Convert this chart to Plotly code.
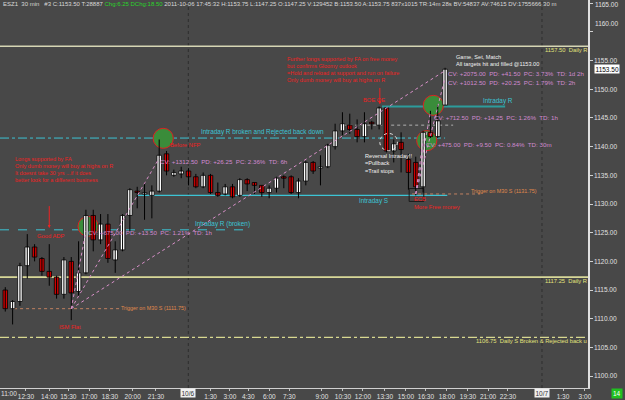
import plotly.graph_objects as go

# ---------------- data ----------------
opens = [1115.0, 1111.75, 1113.0, 1119.25, 1122.5, 1120.5, 1118.25, 1117.25, 1114.25, 1120.0,
         1114.75, 1118.0, 1128.0, 1123.75, 1126.5, 1120.25, 1122.0, 1128.0, 1132.25, 1131.75,
         1131.5, 1132.25, 1138.75, 1135.0, 1135.25, 1135.75, 1134.75, 1133.0, 1135.0, 1132.0,
         1131.75, 1133.0, 1131.5, 1134.25, 1133.75, 1133.25, 1132.0, 1132.75, 1134.75, 1134.75,
         1132.0, 1134.0, 1137.25, 1136.25, 1136.5, 1140.0, 1142.75, 1143.75, 1143.0, 1141.75,
         1144.25, 1143.75, 1146.75, 1139.25, 1140.75, 1137.75, 1137.25, 1133.0, 1142.5, 1141.75,
         1147.25]
highs = [1115.5, 1113.25, 1119.75, 1124.75, 1123.0, 1120.75, 1123.0, 1117.5, 1120.75, 1120.75,
         1123.5, 1129.0, 1129.0, 1128.25, 1128.25, 1123.5, 1128.25, 1132.75, 1133.0, 1133.75,
         1133.25, 1141.25, 1139.25, 1136.0, 1136.5, 1136.25, 1135.25, 1135.5, 1135.25, 1133.75,
         1133.5, 1133.5, 1134.5, 1134.5, 1133.75, 1133.25, 1133.25, 1134.75, 1135.0, 1135.0,
         1134.5, 1137.5, 1137.5, 1138.5, 1140.5, 1144.0, 1146.0, 1145.75, 1144.75, 1146.0,
         1144.5, 1147.0, 1146.75, 1141.25, 1142.5, 1138.75, 1138.25, 1142.75, 1146.25, 1147.25,
         1153.75]
lows = [1111.25, 1109.0, 1112.25, 1117.0, 1120.0, 1117.5, 1115.75, 1113.5, 1113.5, 1109.75,
        1113.75, 1117.75, 1121.75, 1123.0, 1119.75, 1118.0, 1121.75, 1125.25, 1129.25, 1127.25,
        1127.5, 1132.0, 1135.0, 1134.75, 1134.5, 1133.25, 1132.75, 1132.75, 1131.75, 1131.25,
        1131.5, 1131.0, 1131.25, 1132.25, 1131.75, 1131.25, 1131.0, 1132.0, 1132.75, 1131.75,
        1131.0, 1133.25, 1135.25, 1133.25, 1136.25, 1139.5, 1142.0, 1142.25, 1140.75, 1140.75,
        1143.0, 1143.0, 1139.0, 1137.25, 1135.5, 1132.5, 1131.5, 1132.0, 1141.5, 1141.5,
        1147.25]
closes = [1111.75, 1113.0, 1119.25, 1122.5, 1120.75, 1118.25, 1117.25, 1114.25, 1120.25, 1114.5,
          1118.0, 1128.0, 1123.75, 1126.5, 1120.5, 1122.0, 1128.0, 1132.5, 1132.0, 1132.0,
          1132.25, 1138.5, 1135.75, 1135.5, 1135.75, 1134.75, 1133.0, 1135.0, 1132.0, 1131.5,
          1133.0, 1131.25, 1134.25, 1133.5, 1133.25, 1132.0, 1132.75, 1134.5, 1134.5, 1132.0,
          1134.0, 1137.25, 1135.75, 1136.5, 1140.25, 1142.75, 1144.0, 1143.0, 1141.75, 1144.0,
          1144.0, 1146.75, 1139.25, 1140.5, 1139.5, 1135.5, 1133.0, 1142.5, 1141.75, 1144.5,
          1153.5]

time_labels = ["11:00", "12:30", "14:00", "15:30", "17:00", "18:30", "20:00", "21:30", "10/6",
               "1:30", "3:00", "4:30", "6:00", "7:30", "9:00", "10:30", "12:00", "13:30", "15:00",
               "16:30", "18:00", "19:30", "21:00", "22:30", "10/7", "1:30", "3:00"]
time_label_pos = [0.0, 2.82, 6.0, 8.6, 11.46, 14.28, 17.38, 20.56, 24.97, 28.02, 30.65, 33.15,
                  36.02, 38.74, 43.2, 46.07, 48.8, 51.8, 54.66, 57.39, 60.26, 63.12, 65.86,
                  68.58, 73.22, 76.09, 79.08]
price_ticks = [1100, 1105, 1110, 1115, 1120, 1125, 1130, 1135, 1140, 1145, 1150, 1155, 1160, 1165]

daily_levels = [1157.50, 1117.25, 1106.75]
intraday_r_broken_rejected = 1141.5
intraday_r_broken = 1125.5
intraday_s = 1131.5
intraday_r = 1147.0
trigger_1 = 1111.75
trigger_2 = 1131.75
pullback_level = 1143.75
ism_bar, ecb_bar = 9, 56
ism_targets = [(11, 1125.25), (21, 1138.0), (60, 1153.25)]
ecb_targets = [(57, 1141.25), (58, 1146.0), (60, 1152.0)]

last_price = 1153.50

# ---------------- styling ----------------
BG = "#484848"
FONT = "Liberation Sans"
RED_TXT = "#ee2222"
CYAN = "#3cc4d4"
PINK = "#d08ad0"
YEL = "#e2e27c"
ORANGE = "#e0884c"
AXTXT = "#e0e0e0"

n = len(opens)
idx = list(range(n))

fig = go.Figure()

# wicks
wx, wy = [], []
for i in idx:
    wx += [i, i, None]
    wy += [lows[i], highs[i], None]
fig.add_trace(go.Scatter(x=wx, y=wy, mode="lines", line=dict(color="black", width=1),
                         hoverinfo="skip", showlegend=False))

# bodies
base = [min(o, c) for o, c in zip(opens, closes)]
height = [max(abs(c - o), 0.12) for o, c in zip(opens, closes)]
colors = ["white" if c >= o else "#d00000" for o, c in zip(opens, closes)]
fig.add_trace(go.Bar(x=idx, y=height, base=base, width=0.62,
                     marker=dict(color=colors, line=dict(color="black", width=0.8)),
                     showlegend=False, hoverinfo="skip"))

shapes = []
X0, X1 = -0.72, 79.5
# daily levels
shapes.append(dict(type="line", x0=X0, x1=X1, y0=daily_levels[0], y1=daily_levels[0],
                   line=dict(color="#d6d6b4", width=1.6), layer="below"))
shapes.append(dict(type="line", x0=X0, x1=X1, y0=daily_levels[1], y1=daily_levels[1],
                   line=dict(color="#d8d898", width=1.6), layer="below"))
shapes.append(dict(type="line", x0=X0, x1=X1, y0=daily_levels[2], y1=daily_levels[2],
                   line=dict(color="#d8d890", width=1.2, dash="dashdot"), layer="below"))
# intraday levels
shapes.append(dict(type="line", x0=X0, x1=60, y0=intraday_r_broken_rejected, y1=intraday_r_broken_rejected,
                   line=dict(color=CYAN, width=1, dash="dashdot"), layer="below"))
shapes.append(dict(type="line", x0=X0, x1=33.1, y0=intraday_r_broken, y1=intraday_r_broken,
                   line=dict(color=CYAN, width=1, dash="dash"), layer="below"))
shapes.append(dict(type="line", x0=18.1, x1=60.3, y0=intraday_s, y1=intraday_s,
                   line=dict(color=CYAN, width=1.2), layer="below"))
shapes.append(dict(type="line", x0=51.4, x1=68.2, y0=intraday_r, y1=intraday_r,
                   line=dict(color="#2c9c9c", width=2), layer="below"))
shapes.append(dict(type="line", x0=1.2, x1=15.6, y0=trigger_1, y1=trigger_1,
                   line=dict(color="#c08060", width=1, dash="dot"), layer="below"))
shapes.append(dict(type="line", x0=55.5, x1=64.8, y0=trigger_2, y1=trigger_2,
                   line=dict(color="#c08060", width=1, dash="dot"), layer="below"))
shapes.append(dict(type="line", x0=46.1, x1=61.1, y0=pullback_level, y1=pullback_level,
                   line=dict(color="#b0b0b0", width=1, dash="dot"), layer="below"))
# day separators
for d in (24.97, 73.22):
    shapes.append(dict(type="line", x0=d, x1=d, y0=0, y1=1, yref="paper",
                       line=dict(color="#2e2e2e", width=1, dash="dot"), layer="below"))
# green circles
for cx, cy in [(11.3, 1126.1), (21.55, 1141.45), (58.4, 1147.2), (57.5, 1141.05)]:
    shapes.append(dict(type="circle", x0=cx - 1.38, x1=cx + 1.38, y0=cy - 1.75, y1=cy + 1.75,
                       fillcolor="#3a8c3a", line=dict(color="#e02020", width=1), layer="below"))
# white dashed circle
shapes.append(dict(type="circle", x0=52.3 - 1.2, x1=52.3 + 1.2, y0=1140.8 - 1.5, y1=1140.8 + 1.5,
                   line=dict(color="#e8e8e8", width=1, dash="dot"), layer="above"))
# ECB box
shapes.append(dict(type="rect", x0=55.1, x1=57.1, y0=1130.45, y1=1132.7,
                   line=dict(color="#1a1a1a", width=1), layer="below"))
# projection lines
for tx, ty in ism_targets:
    shapes.append(dict(type="line", x0=ism_bar, y0=trigger_1, x1=tx, y1=ty,
                       line=dict(color="#d890c8", width=1, dash="dot"), layer="above"))
for tx, ty in ecb_targets:
    shapes.append(dict(type="line", x0=ecb_bar, y0=trigger_2, x1=tx, y1=ty,
                       line=dict(color="#d890c8", width=1, dash="dot"), layer="above"))

ann = []


def txt(x, y, text, color, size=6, xanchor="left", yanchor="middle", **kw):
    d = dict(x=x, y=y, xref="x", yref="y", text=text, showarrow=False, xanchor=xanchor,
             yanchor=yanchor, align="left", font=dict(family=FONT, size=size, color=color),
             borderpad=0)
    d.update(kw)
    ann.append(d)


txt(1.2, 1136.0, "Longs supported by FA<br>Only dumb money will buy at highs on R<br>"
    "It doesnt take 30 yrs ...if it does<br>better look for a different business", RED_TXT, 5.5)
txt(38.3, 1153.4, "Further longs supported by FA on free money<br>but confirms Gloomy outlook<br>"
    "=Hold and reload at support and run on failure<br>Only dumb money will buy at highs on R", RED_TXT, 5.5)
txt(48.6, 1148.1, "BOE QE", RED_TXT, 5.8)
txt(22.4, 1140.3, "Before NFP", RED_TXT, 5.8)
txt(6.2, 1124.4, "Good ADP", RED_TXT, 5.8, xanchor="center")
txt(8.8, 1108.5, "ISM Flat", RED_TXT, 5.8, xanchor="center")
txt(55.6, 1130.1, "ECB<br>More Free money", RED_TXT, 5.8)
txt(61.4, 1155.0, "Game, Set, Match<br>All targets hit and filled @1153.00", "#f0f0f0", 5.6)
txt(49.0, 1137.1, "Reversal Intraday!!<br>=Pullback<br>=Trail stops", "#f0f0f0", 5.6)
txt(26.5, 1142.6, "Intraday R broken and Rejected back down", CYAN, 6.4)
txt(25.7, 1126.5, "Intraday R (broken)", CYAN, 6.4)
txt(48.1, 1130.5, "Intraday S", CYAN, 6.4)
txt(65.1, 1148.0, "Intraday R", CYAN, 6.4)
txt(21.0, 1137.45, "CV: +1312.50  PD: +26.25  PC: 2.36%  TD: 6h", PINK, 6.2)
txt(11.1, 1125.1, "CV: +675.00  PD: +13.50  PC: 1.21%  TD: 1h", PINK, 6.2)
txt(58.3, 1145.0, "CV: +712.50  PD: +14.25  PC: 1.26%  TD: 1h", PINK, 6.2)
txt(57.2, 1140.3, "CV: +475.00  PD: +9.50  PC: 0.84%  TD: 30m", PINK, 6.2)
txt(60.2, 1152.7, "CV: +2075.00  PD: +41.50  PC: 3.73%  TD: 1d 2h", PINK, 6.2)
txt(60.2, 1151.25, "CV: +1012.50  PD: +20.25  PC: 1.79%  TD: 2h", PINK, 6.2)
txt(63.4, 1132.2, "Trigger on M30 S (%.2f)" % trigger_2, ORANGE, 5.4)
txt(15.6, 1111.95, "Trigger on M30 S (%.2f)" % trigger_1, ORANGE, 5.4)
txt(79.5, 1156.9, "%.2f  Daily R" % daily_levels[0], YEL, 5.8, xanchor="right")
txt(79.5, 1116.65, "%.2f  Daily R" % daily_levels[1], YEL, 5.8, xanchor="right")
txt(79.5, 1106.15, "%.2f  Daily S Broken &amp; Rejected back u" % daily_levels[2], YEL, 5.8, xanchor="right")

# arrows
ann.append(dict(x=51.1, y=1147.4, ax=51.1, ay=1150.5, xref="x", yref="y", axref="x", ayref="y",
                text="", showarrow=True, arrowhead=2, arrowsize=0.6, arrowwidth=1, arrowcolor=RED_TXT))
ann.append(dict(x=6.0, y=1125.8, ax=6.0, ay=1129.9, xref="x", yref="y", axref="x", ayref="y",
                text="", showarrow=True, arrowhead=2, arrowsize=0.6, arrowwidth=1, arrowcolor=RED_TXT))

# header
hdr = ("<span style='color:#d8d8d8'>ESZ1&nbsp;&nbsp;30 min&nbsp;&nbsp;&nbsp;#3 C:1153.50 T:28887 </span>"
       "<span style='color:#2ad42a'>Chg:6.25 DChg:18.50</span>"
       "<span style='color:#d8d8d8'> 2011-10-06 17:45:32 H:1153.75 L:1147.25 O:1147.25 V:129452 "
       "B:1153.50 A:1153.75 837x1015 TR:14m 28s BV:54837 AV:74615 DV:1755666 30 m</span>")
ann.append(dict(x=0.004, y=0.999, xref="paper", yref="paper", text=hdr, showarrow=False,
                xanchor="left", yanchor="top", font=dict(family=FONT, size=6), borderpad=0))

# last price box on axis
ann.append(dict(x=1.0, y=last_price, xref="paper", yref="y", xshift=6, text="%.2f" % last_price,
                showarrow=False, xanchor="left", yanchor="middle", bgcolor="white",
                font=dict(family=FONT, size=6.5, color="black"), borderpad=0.5))

# top price labels (drawn as in the reference, 1160 label sits a little high)
ytext = []
for v in price_ticks:
    if v >= 1160:
        ytext.append("")
        ann.append(dict(x=1.0, y=v + (1.5 if v == 1160 else -0.3), xref="paper", yref="y", xshift=6,
                        text="%.2f" % v, showarrow=False, xanchor="left", yanchor="middle",
                        font=dict(family=FONT, size=6.5, color=AXTXT), borderpad=0))
    else:
        ytext.append("%.2f" % v)

# time labels: date labels with boxes, first label kept inside the left edge
tick_vals, tick_text = [], []
for lab, pos in zip(time_labels, time_label_pos):
    if "/" in lab:
        ann.append(dict(x=pos, y=0, xref="x", yref="paper", yshift=-5, text=lab, showarrow=False,
                        xanchor="center", yanchor="middle", bgcolor="#f0f0f0",
                        font=dict(family=FONT, size=6.5, color="#303030"), borderpad=0.5))
    elif pos < 1:
        ann.append(dict(x=0, y=0, xref="paper", yref="paper", yshift=-5, text=lab, showarrow=False,
                        xanchor="left", yanchor="middle",
                        font=dict(family=FONT, size=6.5, color=AXTXT), borderpad=0))
    else:
        tick_vals.append(pos)
        tick_text.append(lab)

ann.append(dict(x=1.0, y=0, xref="paper", yref="paper", xshift=29, yshift=-5, text="14",
                showarrow=False, xanchor="center", yanchor="middle", bgcolor="#20c020",
                font=dict(family=FONT, size=6.5, color="white"), borderpad=1))

fig.update_layout(
    width=625, height=400, margin=dict(l=0, r=37, t=0, b=9),
    paper_bgcolor=BG, plot_bgcolor=BG, barmode="overlay", showlegend=False,
    shapes=shapes, annotations=ann,
    xaxis=dict(range=[X0, X1], showgrid=False, zeroline=False, showline=True,
               linecolor="#d0d0d0", linewidth=1, tickvals=tick_vals, ticktext=tick_text,
               ticks="outside", ticklen=2, tickcolor="#c0c0c0",
               tickfont=dict(family=FONT, size=6.5, color=AXTXT), fixedrange=True),
    yaxis=dict(range=[1097.92, 1165.57], side="right", showgrid=False, zeroline=False,
               showline=True, linecolor="#e0e0e0", linewidth=1.5, tickvals=price_ticks,
               ticktext=ytext, ticks="outside", ticklen=3,
               tickcolor="#d0d0d0", tickfont=dict(family=FONT, size=6.5, color=AXTXT),
               fixedrange=True),
)

fig.write_html("out.html")
